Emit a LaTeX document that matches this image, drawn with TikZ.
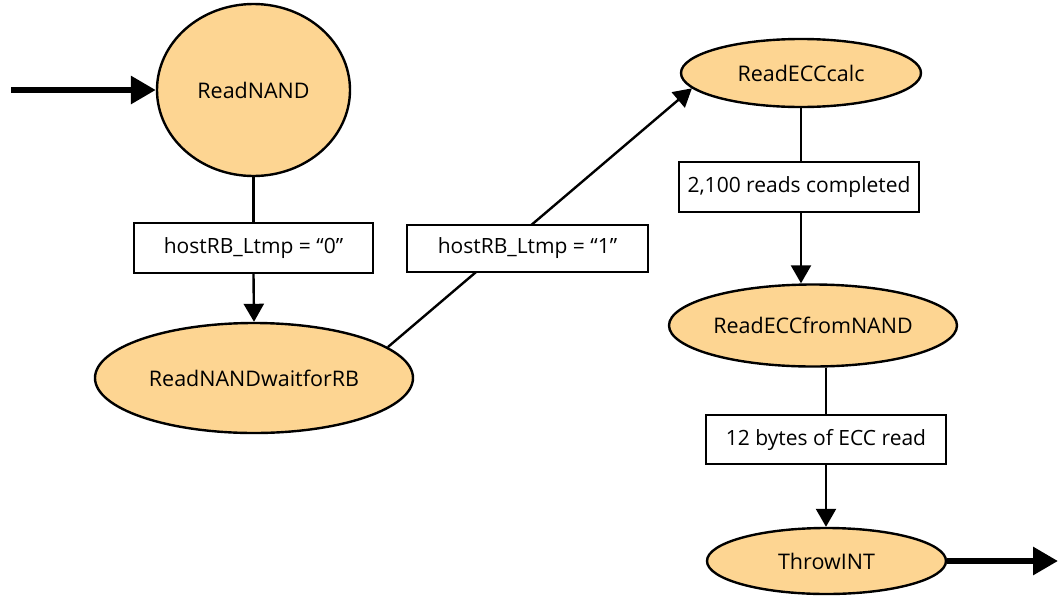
\documentclass[tikz,border=0pt]{standalone}
\usepackage{fontspec}
\setmainfont{Open Sans}
\usetikzlibrary{shapes.geometric,arrows.meta}
\definecolor{stfill}{HTML}{FDD592}
\tikzset{
  state/.style={ellipse, draw=black, line width=2.4pt, fill=stfill, inner sep=0pt, font=\fontsize{21.5}{25}\selectfont},
  cond/.style={rectangle, draw=black, line width=2.4pt, fill=white, inner sep=0pt, font=\fontsize{21}{25}\selectfont},
  conn/.style={line width=2.4pt},
  arr/.style={line width=2.4pt, -{Triangle[length=18pt,width=20pt]}},
  bigarr/.style={line width=6pt, -{Triangle[length=25pt,width=27pt]}}
}
\begin{document}
\begin{tikzpicture}[x=1pt,y=-1pt]
\useasboundingbox (0,0) rectangle (1061,595);
% states
\node[state, minimum width=193pt, minimum height=172pt] (rn) at (253.5,90) {ReadNAND};
\node[state, minimum width=318pt, minimum height=110pt] (ew) at (254,378) {ReadNANDwaitforRB};
\node[state, minimum width=240pt, minimum height=68pt] (ecalc) at (801,73) {ReadECCcalc};
\node[state, minimum width=288pt, minimum height=82pt] (efn) at (813,325.5) {ReadECCfromNAND};
\node[state, minimum width=239pt, minimum height=66pt] (ti) at (826.5,561) {ThrowINT};
% entry / exit
\coordinate (start) at (11,90);
\coordinate (finish) at (1058,561);
\draw[bigarr] (start) -- (rn.west);
\draw[bigarr] (ti.east) -- (finish);
% diagonal transition (drawn before its label box)
\draw[arr] (ew.13) -- (ecalc.188);
% condition boxes
\node[cond, minimum width=239pt, minimum height=50pt] (b1) at (253.5,248) {hostRB\_Ltmp = “0”};
\node[cond, minimum width=241pt, minimum height=47pt] (b2) at (527.5,248.5) {hostRB\_Ltmp = “1”};
\node[cond, minimum width=240pt, minimum height=50pt] (b3) at (799,187) {2,100 reads completed};
\node[cond, minimum width=240pt, minimum height=49pt] (b4) at (826,439.5) {12 bytes of ECC read};
% vertical transitions
\draw[conn] (rn.south) -- (b1.north);
\draw[arr] (b1.south) -- (ew.north);
\draw[conn] (ecalc.south) -- (ecalc.south |- b3.north);
\draw[arr] (ecalc.south |- b3.south) -- (ecalc.south |- efn.north);
\draw[conn] (b4.north |- efn.south) -- (b4.north);
\draw[arr] (b4.south) -- (b4.south |- ti.north);
\end{tikzpicture}
\end{document}
